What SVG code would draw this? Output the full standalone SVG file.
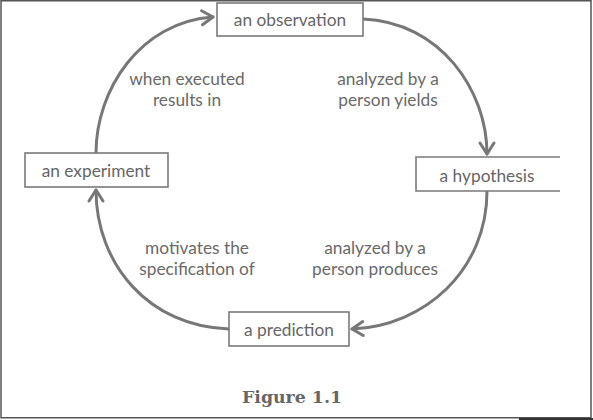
<svg xmlns="http://www.w3.org/2000/svg" width="593" height="420" viewBox="0 0 593 420">
<style>
.box{fill:#fff;stroke:#7a7a7a;stroke-width:1.6}
.node{font-family:Lato,"Open Sans","Liberation Sans",sans-serif;font-size:17.3px;fill:#666;text-anchor:middle}
.lbl{font-family:Lato,"Open Sans","Liberation Sans",sans-serif;font-size:17.3px;fill:#6a6a6a;text-anchor:middle}
.arc{fill:none;stroke:#777;stroke-width:3;stroke-linecap:round}
.cap{font-family:"DejaVu Serif","Liberation Serif",serif;font-weight:bold;font-size:17.5px;fill:#666;text-anchor:middle}
</style>
<defs>
<marker id="arr" markerUnits="userSpaceOnUse" markerWidth="30" markerHeight="30" viewBox="-15 -15 30 30" refX="0" refY="0" orient="auto">
<path d="M-11,-7 L0,0 L-11,7" fill="none" stroke="#777" stroke-width="3" stroke-linecap="round" stroke-linejoin="round"/>
</marker>
</defs>
<rect x="0" y="0" width="593" height="420" fill="#fff"/>
<rect x="1" y="0.75" width="590" height="417" fill="none" stroke="#555" stroke-width="1.5"/>
<rect x="519" y="418" width="74" height="2" fill="#333"/>
<g id="connectors">
<path class="arc" d="M96,153 C96,90 140,22 213,17" marker-end="url(#arr)"/>
<path class="arc" d="M363,19 C440,22 487,90 487,154" marker-end="url(#arr)"/>
<path class="arc" d="M487,191 C487,270 425,326 352,329" marker-end="url(#arr)"/>
<path class="arc" d="M229,329 C150,327 96,265 96,190" marker-end="url(#arr)"/>
</g>
<g id="labels">
<text class="lbl" x="187" y="85">when executed</text>
<text class="lbl" x="187" y="106">results in</text>
<text class="lbl" x="388" y="85">analyzed by a</text>
<text class="lbl" x="388" y="106">person yields</text>
<text class="lbl" x="197" y="254">motivates the</text>
<text class="lbl" x="197" y="275">specification of</text>
<text class="lbl" x="375" y="254">analyzed by a</text>
<text class="lbl" x="375" y="275">person produces</text>
</g>
<g id="observation">
<rect class="box" x="217" y="3" width="146" height="33"/>
<text class="node" x="290" y="25.5">an observation</text>
</g>
<g id="hypothesis">
<rect x="416" y="157" width="144" height="34" fill="#fff"/>
<path d="M560,157 H416 V191 H560" fill="none" stroke="#7a7a7a" stroke-width="1.6"/>
<text class="node" x="487" y="182">a hypothesis</text>
</g>
<g id="prediction">
<rect class="box" x="229" y="312" width="120" height="34"/>
<text class="node" x="289" y="336">a prediction</text>
</g>
<g id="experiment">
<rect class="box" x="25" y="153" width="143" height="34"/>
<text class="node" x="96" y="177">an experiment</text>
</g>
<text class="cap" x="292" y="403" textLength="100" lengthAdjust="spacingAndGlyphs">Figure 1.1</text>
</svg>
